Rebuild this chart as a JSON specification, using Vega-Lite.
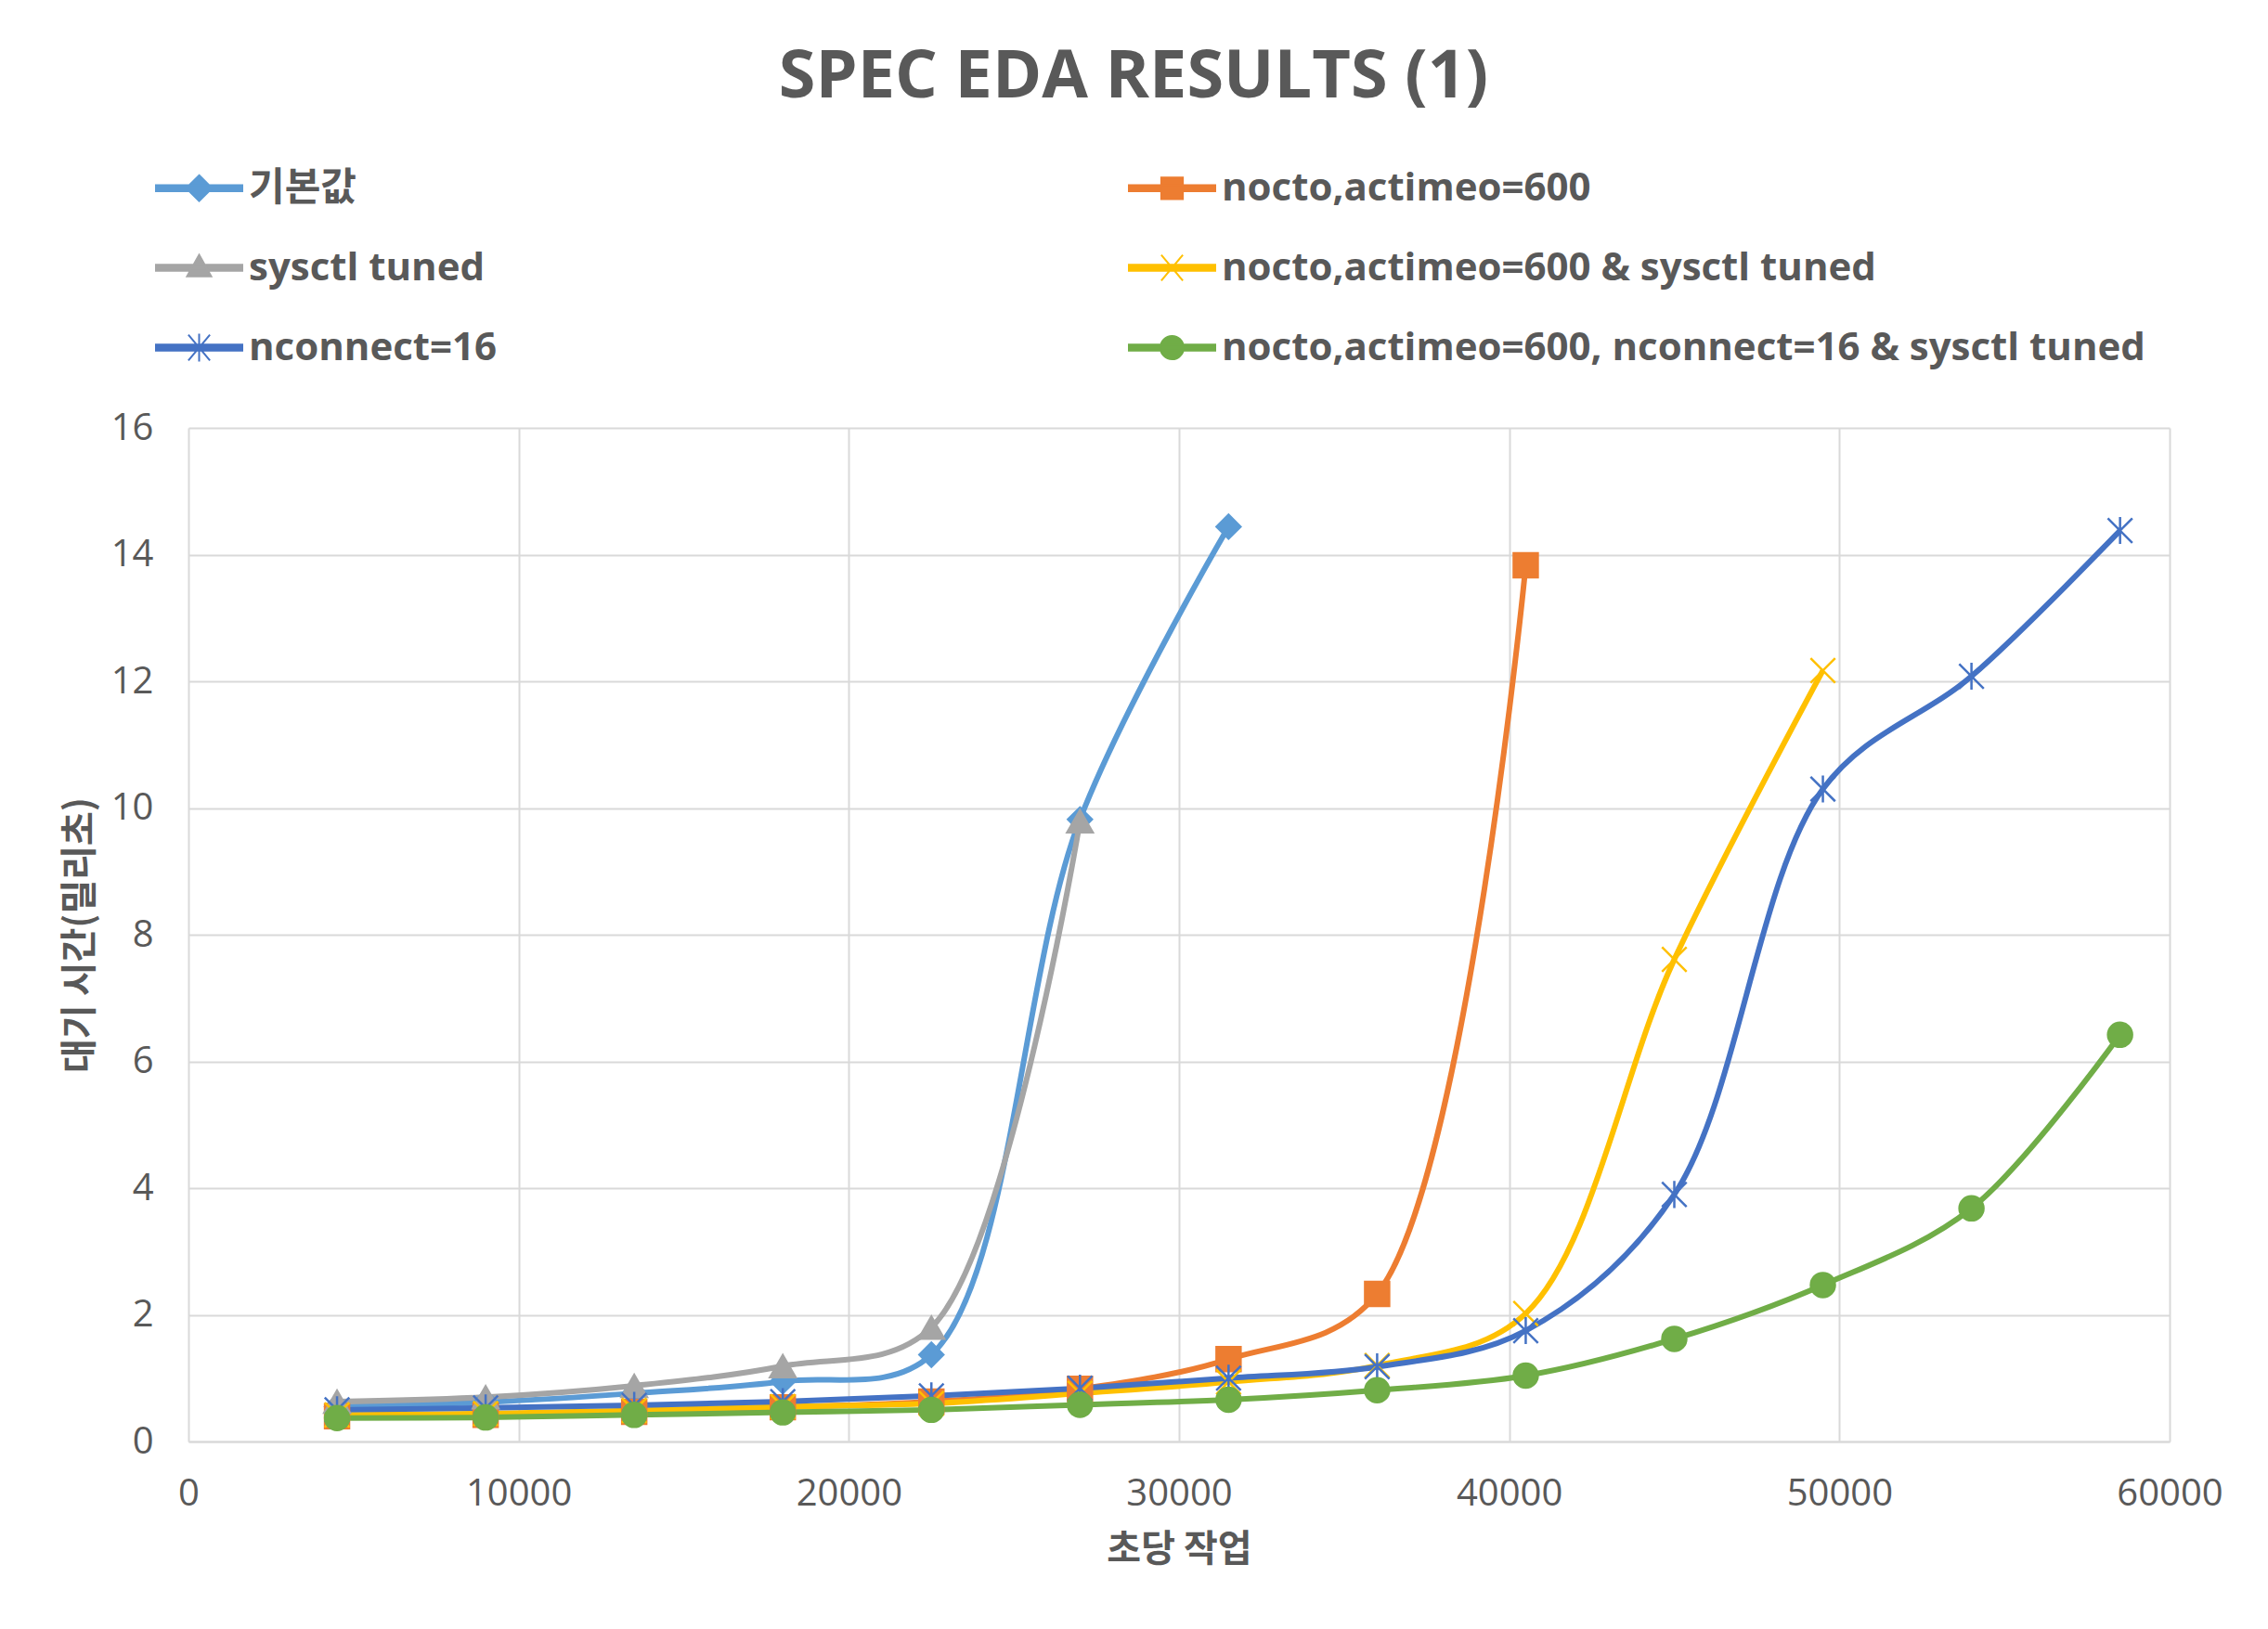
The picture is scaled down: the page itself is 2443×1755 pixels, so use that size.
{
  "$schema": "https://vega.github.io/schema/vega-lite/v6.json",
  "width": 2134,
  "height": 1092,
  "autosize": {"type": "none"},
  "padding": {"left": 203, "top": 461, "right": 106, "bottom": 202},
  "background": "white",
  "title": {
    "text": "SPEC EDA RESULTS (1)",
    "font": "Open Sans",
    "fontSize": 72,
    "fontWeight": "bold",
    "color": "#595959",
    "anchor": "middle",
    "frame": "group",
    "dx": -49,
    "offset": 35
  },
  "config": {
    "view": {"stroke": null},
    "axis": {
      "labelFont": "Open Sans",
      "labelFontSize": 40,
      "labelColor": "#595959",
      "titleFont": "Noto Sans CJK KR",
      "titleFontSize": 40,
      "titleFontWeight": "bold",
      "titleColor": "#595959",
      "gridColor": "#D9D9D9",
      "gridWidth": 2,
      "ticks": false,
      "labelFlush": false
    }
  },
  "data": {
    "values": [
      {"s": "기본값", "x": 4500, "y": 0.55},
      {"s": "기본값", "x": 9000, "y": 0.62},
      {"s": "기본값", "x": 13500, "y": 0.76},
      {"s": "기본값", "x": 18000, "y": 0.95},
      {"s": "기본값", "x": 22500, "y": 1.37},
      {"s": "기본값", "x": 27000, "y": 9.82},
      {"s": "기본값", "x": 31500, "y": 14.44},
      {"s": "nocto,actimeo=600", "x": 4500, "y": 0.40},
      {"s": "nocto,actimeo=600", "x": 9000, "y": 0.42},
      {"s": "nocto,actimeo=600", "x": 13500, "y": 0.47},
      {"s": "nocto,actimeo=600", "x": 18000, "y": 0.54},
      {"s": "nocto,actimeo=600", "x": 22500, "y": 0.63},
      {"s": "nocto,actimeo=600", "x": 27000, "y": 0.83},
      {"s": "nocto,actimeo=600", "x": 31500, "y": 1.30},
      {"s": "nocto,actimeo=600", "x": 36000, "y": 2.33},
      {"s": "nocto,actimeo=600", "x": 40500, "y": 13.83},
      {"s": "sysctl tuned", "x": 4500, "y": 0.63},
      {"s": "sysctl tuned", "x": 9000, "y": 0.70},
      {"s": "sysctl tuned", "x": 13500, "y": 0.88},
      {"s": "sysctl tuned", "x": 18000, "y": 1.19},
      {"s": "sysctl tuned", "x": 22500, "y": 1.80},
      {"s": "sysctl tuned", "x": 27000, "y": 9.79},
      {"s": "nocto,actimeo=600 & sysctl tuned", "x": 4500, "y": 0.42},
      {"s": "nocto,actimeo=600 & sysctl tuned", "x": 9000, "y": 0.44},
      {"s": "nocto,actimeo=600 & sysctl tuned", "x": 13500, "y": 0.49},
      {"s": "nocto,actimeo=600 & sysctl tuned", "x": 18000, "y": 0.55},
      {"s": "nocto,actimeo=600 & sysctl tuned", "x": 22500, "y": 0.60},
      {"s": "nocto,actimeo=600 & sysctl tuned", "x": 27000, "y": 0.76},
      {"s": "nocto,actimeo=600 & sysctl tuned", "x": 31500, "y": 0.94},
      {"s": "nocto,actimeo=600 & sysctl tuned", "x": 36000, "y": 1.20},
      {"s": "nocto,actimeo=600 & sysctl tuned", "x": 40500, "y": 2.02},
      {"s": "nocto,actimeo=600 & sysctl tuned", "x": 45000, "y": 7.61},
      {"s": "nocto,actimeo=600 & sysctl tuned", "x": 49500, "y": 12.17},
      {"s": "nconnect=16", "x": 4500, "y": 0.50},
      {"s": "nconnect=16", "x": 9000, "y": 0.53},
      {"s": "nconnect=16", "x": 13500, "y": 0.57},
      {"s": "nconnect=16", "x": 18000, "y": 0.63},
      {"s": "nconnect=16", "x": 22500, "y": 0.72},
      {"s": "nconnect=16", "x": 27000, "y": 0.84},
      {"s": "nconnect=16", "x": 31500, "y": 1.00},
      {"s": "nconnect=16", "x": 36000, "y": 1.18},
      {"s": "nconnect=16", "x": 40500, "y": 1.75},
      {"s": "nconnect=16", "x": 45000, "y": 3.90},
      {"s": "nconnect=16", "x": 49500, "y": 10.30},
      {"s": "nconnect=16", "x": 54000, "y": 12.08},
      {"s": "nconnect=16", "x": 58500, "y": 14.38},
      {"s": "nocto,actimeo=600, nconnect=16 & sysctl tuned", "x": 4500, "y": 0.37},
      {"s": "nocto,actimeo=600, nconnect=16 & sysctl tuned", "x": 9000, "y": 0.38},
      {"s": "nocto,actimeo=600, nconnect=16 & sysctl tuned", "x": 13500, "y": 0.42},
      {"s": "nocto,actimeo=600, nconnect=16 & sysctl tuned", "x": 18000, "y": 0.46},
      {"s": "nocto,actimeo=600, nconnect=16 & sysctl tuned", "x": 22500, "y": 0.50},
      {"s": "nocto,actimeo=600, nconnect=16 & sysctl tuned", "x": 27000, "y": 0.58},
      {"s": "nocto,actimeo=600, nconnect=16 & sysctl tuned", "x": 31500, "y": 0.66},
      {"s": "nocto,actimeo=600, nconnect=16 & sysctl tuned", "x": 36000, "y": 0.81},
      {"s": "nocto,actimeo=600, nconnect=16 & sysctl tuned", "x": 40500, "y": 1.04},
      {"s": "nocto,actimeo=600, nconnect=16 & sysctl tuned", "x": 45000, "y": 1.62},
      {"s": "nocto,actimeo=600, nconnect=16 & sysctl tuned", "x": 49500, "y": 2.47},
      {"s": "nocto,actimeo=600, nconnect=16 & sysctl tuned", "x": 54000, "y": 3.68},
      {"s": "nocto,actimeo=600, nconnect=16 & sysctl tuned", "x": 58500, "y": 6.42}
    ]
  },
  "encoding": {
    "x": {
      "field": "x",
      "type": "quantitative",
      "scale": {"domain": [0, 60000], "nice": false},
      "axis": {
        "title": "초당 작업",
        "values": [0, 10000, 20000, 30000, 40000, 50000, 60000],
        "format": "d",
        "grid": true,
        "domain": true,
        "domainColor": "#D9D9D9",
        "domainWidth": 2,
        "labelPadding": 36,
        "titleY": 116,
        "titleBaseline": "middle"
      }
    },
    "y": {
      "field": "y",
      "type": "quantitative",
      "scale": {"domain": [0, 16], "nice": false},
      "axis": {
        "title": "대기 시간(밀리초)",
        "values": [0, 2, 4, 6, 8, 10, 12, 14, 16],
        "grid": true,
        "domain": false,
        "labelPadding": 38,
        "titleX": -117,
        "titleY": 546,
        "titleBaseline": "middle"
      }
    }
  },
  "layer": [
    {
      "mark": {"type": "line", "interpolate": "catmull-rom", "strokeWidth": 6},
      "encoding": {
        "color": {
          "field": "s",
          "type": "nominal",
          "sort": null,
          "scale": {
            "domain": ["기본값", "nocto,actimeo=600", "sysctl tuned", "nocto,actimeo=600 & sysctl tuned", "nconnect=16", "nocto,actimeo=600, nconnect=16 & sysctl tuned"],
            "range": ["#5B9BD5", "#ED7D31", "#A5A5A5", "#FFC000", "#4472C4", "#70AD47"]
          },
          "legend": {
            "title": null,
            "orient": "none",
            "legendX": -36,
            "legendY": -306,
            "columns": 2,
            "direction": "horizontal",
            "padding": 0,
            "labelFont": "Open Sans, Noto Sans CJK KR",
            "labelFontSize": 42,
            "labelFontWeight": "bold",
            "labelColor": "#595959",
            "labelLimit": 1500,
            "labelOffset": 6,
            "rowPadding": 17,
            "columnPadding": 676,
            "symbolSize": 8649,
            "symbolStrokeWidth": 2,
            "encode": {
              "symbols": {
                "update": {
                  "shape": {"signal": "datum.value === '기본값' ? 'M-1,-0.07L1,-0.07L1,0.07L-1,0.07ZM0,-0.3L0.3,0L0,0.3L-0.3,0Z' : datum.value === 'nocto,actimeo=600' ? 'M-1,-0.07L1,-0.07L1,0.07L-1,0.07ZM-0.25,-0.25L0.25,-0.25L0.25,0.25L-0.25,0.25Z' : datum.value === 'sysctl tuned' ? 'M-1,-0.07L1,-0.07L1,0.07L-1,0.07ZM0,-0.3L0.28,0.2L-0.28,0.2Z' : datum.value === 'nocto,actimeo=600 & sysctl tuned' ? 'M-1,-0.07L1,-0.07L1,0.07L-1,0.07ZM-0.25,-0.3L0.25,0.3M-0.25,0.3L0.25,-0.3' : datum.value === 'nconnect=16' ? 'M-1,-0.07L1,-0.07L1,0.07L-1,0.07ZM-0.25,-0.3L0.25,0.3M-0.25,0.3L0.25,-0.3M0,-0.32L0,0.32' : 'M-1,-0.07L1,-0.07L1,0.07L-1,0.07ZM-0.27,0A0.27,0.27,0,1,1,0.27,0A0.27,0.27,0,1,1,-0.27,0Z'"},
                  "fill": {"scale": "color", "field": "value"},
                  "stroke": {"scale": "color", "field": "value"},
                  "strokeWidth": {"value": 2},
                  "opacity": {"value": 1},
                  "size": {"value": 8649}
                }
              }
            }
          }
        }
      }
    },
    {
      "transform": [{"filter": {"field": "s", "equal": "기본값"}}],
      "mark": {"type": "point", "shape": "diamond", "size": 700, "fill": "#5B9BD5", "stroke": "#5B9BD5", "strokeWidth": 2, "opacity": 1}
    },
    {
      "transform": [{"filter": {"field": "s", "equal": "nocto,actimeo=600"}}],
      "mark": {"type": "point", "shape": "square", "size": 700, "fill": "#ED7D31", "stroke": "#ED7D31", "strokeWidth": 2, "opacity": 1}
    },
    {
      "transform": [{"filter": {"field": "s", "equal": "sysctl tuned"}}],
      "mark": {"type": "point", "shape": "triangle-up", "size": 800, "fill": "#A5A5A5", "stroke": "#A5A5A5", "strokeWidth": 2, "opacity": 1}
    },
    {
      "transform": [{"filter": {"field": "s", "equal": "nocto,actimeo=600 & sysctl tuned"}}],
      "mark": {"type": "point", "shape": "M-1,-1L1,1M-1,1L1,-1", "size": 700, "fill": null, "stroke": "#FFC000", "strokeWidth": 2.5, "opacity": 1}
    },
    {
      "transform": [{"filter": {"field": "s", "equal": "nconnect=16"}}],
      "mark": {"type": "point", "shape": "M-1,-1L1,1M-1,1L1,-1M0,-1.1L0,1.1", "size": 700, "fill": null, "stroke": "#4472C4", "strokeWidth": 2.5, "opacity": 1}
    },
    {
      "transform": [{"filter": {"field": "s", "equal": "nocto,actimeo=600, nconnect=16 & sysctl tuned"}}],
      "mark": {"type": "point", "shape": "circle", "size": 700, "fill": "#70AD47", "stroke": "#70AD47", "strokeWidth": 2, "opacity": 1}
    }
  ]
}
